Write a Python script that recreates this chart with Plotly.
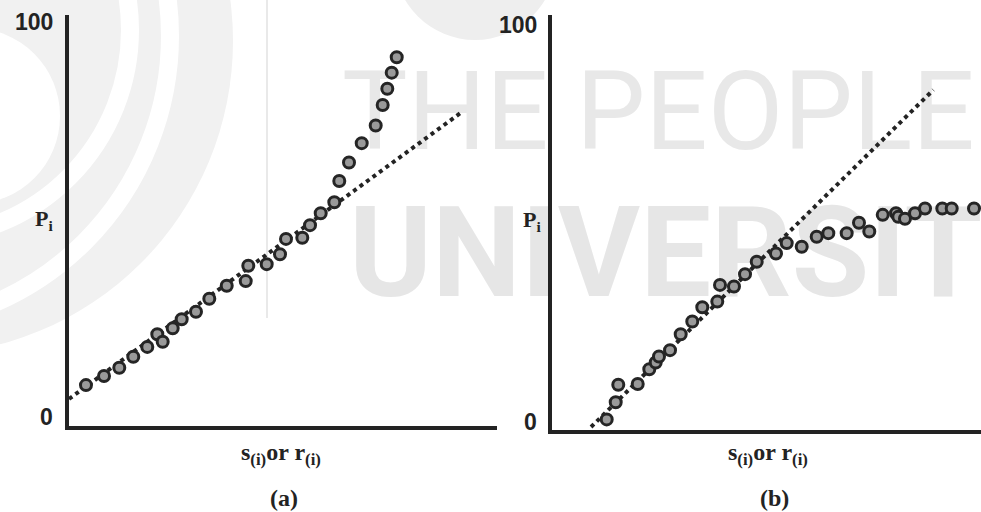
import plotly.graph_objects as go

W, H = 981, 512

# ---------------- data ----------------
# Panel (a): probability plot, points bending upward
a_x = [3.97, 8.18, 11.75, 15.02, 18.29, 20.63, 21.89, 24.23, 26.33, 29.67,
       32.78, 36.85, 41.29, 41.89, 46.19, 49.30, 50.70, 54.51, 56.31, 58.81,
       61.99, 63.15, 65.42, 68.39, 71.66, 73.29, 74.37, 75.40, 76.57]
a_p = [8.1, 10.4, 12.5, 15.3, 17.8, 21.0, 19.1, 22.5, 24.8, 26.7,
       30.0, 33.3, 34.5, 38.4, 38.8, 41.3, 45.2, 45.5, 48.7, 51.7,
       54.5, 59.9, 64.6, 69.5, 74.0, 79.2, 83.3, 87.4, 91.3]
a_fit_x = [0.0, 91.4]
a_fit_p = [4.6, 77.1]

# Panel (b): probability plot, points levelling off
b_x = [12.75, 14.85, 15.45, 19.98, 22.68, 24.17, 24.94, 27.51, 30.00, 32.70,
       35.03, 38.53, 39.16, 42.42, 44.99, 47.72, 52.21, 54.71, 58.21, 61.70,
       64.41, 68.69, 71.56, 73.96, 77.09, 80.19, 80.72, 82.28, 84.62, 86.95,
       90.98, 93.17, 98.37]
b_p = [0.9, 5.2, 9.6, 9.8, 13.5, 15.2, 16.7, 18.3, 22.3, 25.5,
       29.1, 30.5, 34.7, 34.3, 37.4, 40.5, 42.6, 45.2, 44.3, 46.8,
       47.7, 47.7, 50.3, 48.1, 52.3, 52.7, 51.8, 51.3, 52.7, 53.9,
       53.9, 53.9, 53.9]
b_fit_x = [9.1, 88.9]
b_fit_p = [-1.0, 83.7]

y_labels = ["0", "100"]
x_label = "<b>s<sub>(i)</sub>or r<sub>(i)</sub></b>"
y_label = "<b>P<sub>i</sub></b>"
panel_labels = ["<b>(a)</b>", "<b>(b)</b>"]
watermark = ["THE PEOPLE", "UNIVERSITY"]

# ---------------- styles ----------------
INK = "#232323"
MARK_FILL = "#9a9a9a"
WM = "#e8e8e8"
ARC = "#f1f1f1"


def px(x):
    return x / W


def py(y):
    return 1 - y / H


fig = go.Figure()

# watermark text on a full-page background subplot (drawn first -> below)
fig.add_trace(go.Scatter(
    x=[342], y=[121], mode="text", text=[watermark[0]],
    textposition="middle right", cliponaxis=False, hoverinfo="skip",
    textfont=dict(family="Roboto, Liberation Sans, Arial", size=110, color=WM),
    xaxis="x", yaxis="y", showlegend=False))
fig.add_trace(go.Scatter(
    x=[349], y=[264], mode="text", text=["<b>" + watermark[1] + "</b>"],
    textposition="middle right", cliponaxis=False, hoverinfo="skip",
    textfont=dict(family="Roboto, Liberation Sans, Arial", size=126, color="#e6e6e6"),
    xaxis="x", yaxis="y", showlegend=False))

dot_line = dict(color=INK, width=4, dash="dot")
marker = dict(size=11, color=MARK_FILL, line=dict(color="#252525", width=3))

# panel (a)
fig.add_trace(go.Scatter(x=a_fit_x, y=a_fit_p, mode="lines", line=dot_line,
                         xaxis="x2", yaxis="y2", showlegend=False, cliponaxis=False))
fig.add_trace(go.Scatter(x=a_x, y=a_p, mode="markers", marker=marker,
                         xaxis="x2", yaxis="y2", showlegend=False, cliponaxis=False))
# panel (b)
fig.add_trace(go.Scatter(x=b_fit_x, y=b_fit_p, mode="lines", line=dot_line,
                         xaxis="x3", yaxis="y3", showlegend=False))
fig.add_trace(go.Scatter(x=b_x, y=b_p, mode="markers", marker=marker,
                         xaxis="x3", yaxis="y3", showlegend=False, cliponaxis=False))

hidden = dict(visible=False, fixedrange=True)
ax_style = dict(showline=True, linecolor=INK, linewidth=4, showgrid=False,
                zeroline=False, showticklabels=False, ticks="", fixedrange=True)

fig.update_layout(
    width=W, height=H,
    margin=dict(l=0, r=0, t=0, b=0),
    paper_bgcolor="white", plot_bgcolor="rgba(0,0,0,0)",
    showlegend=False,
    xaxis=dict(domain=[0, 1], range=[0, W], anchor="y", **hidden),
    yaxis=dict(domain=[0, 1], range=[H, 0], anchor="x", **hidden),
    xaxis2=dict(domain=[px(69), px(497)], range=[0, 100], anchor="y2", **ax_style),
    yaxis2=dict(domain=[py(426), py(15)], range=[-2.28, 102.03], anchor="x2", **ax_style),
    xaxis3=dict(domain=[px(552), 1.0], range=[0, 100], anchor="y3", **ax_style),
    yaxis3=dict(domain=[py(430), py(15)], range=[-1.76, 102.51], anchor="x3", **ax_style),
)


# faint logo watermark shapes (pixel coordinates on background axes)
def circle(cx, cy, r, fill=None, line_color=None, lw=0):
    d = dict(type="circle", xref="x", yref="y", layer="below",
             x0=cx - r, x1=cx + r, y0=cy - r, y1=cy + r)
    d["fillcolor"] = fill if fill else "rgba(0,0,0,0)"
    d["line"] = dict(color=line_color or "rgba(0,0,0,0)", width=lw)
    return d


shapes = [
    circle(-81, 41, 314, fill=ARC),
    circle(-121, 36, 291, line_color="white", lw=18),
    circle(-78, 30, 208, line_color="white", lw=18),
    circle(-28, 116, 88, fill="white"),
    circle(475, -41, 81, fill="#eeeeee"),
    dict(type="line", xref="x", yref="y", layer="below", x0=267, x1=267, y0=0, y1=318,
         line=dict(color="#e2e2e2", width=1.5)),
]
fig.update_layout(shapes=shapes)

num_font = dict(family="Liberation Sans, Arial", size=23, color=INK)
serif_font = dict(family="Liberation Serif, Times New Roman", size=22, color=INK)
lab_font = dict(family="Liberation Serif, Times New Roman", size=24, color=INK)

ann = []
for (x, y, t) in [(55, 22, y_labels[1]), (55, 417, y_labels[0]),
                  (539, 25, y_labels[1]), (539, 422, y_labels[0])]:
    ann.append(dict(x=px(x), y=py(y), xref="paper", yref="paper", text="<b>" + t + "</b>",
                    showarrow=False, xanchor="right", yanchor="middle", font=num_font))
for (x, y) in [(55, 220), (543, 221)]:
    ann.append(dict(x=px(x), y=py(y), xref="paper", yref="paper", text=y_label,
                    showarrow=False, xanchor="right", yanchor="middle", font=serif_font))
for (x, y) in [(281, 454), (768, 454)]:
    ann.append(dict(x=px(x), y=py(y), xref="paper", yref="paper", text=x_label,
                    showarrow=False, xanchor="center", yanchor="middle", font=lab_font))
for (x, y, t) in [(284, 498, panel_labels[0]), (774, 498, panel_labels[1])]:
    ann.append(dict(x=px(x), y=py(y), xref="paper", yref="paper", text=t,
                    showarrow=False, xanchor="center", yanchor="middle", font=lab_font))
fig.update_layout(annotations=ann)

fig.write_html("out.html")
